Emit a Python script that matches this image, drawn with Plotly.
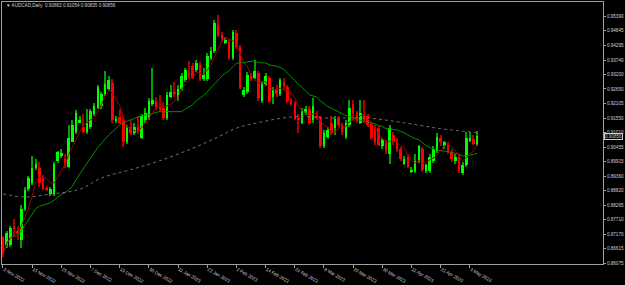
import pandas as pd
import plotly.graph_objects as go

# ---------------- data ----------------
title_text = "\u25bc AUDCAD,Daily  0.90863 0.91054 0.90835 0.90856"

open_ = [0.8702,0.8676,0.8676,0.8741,0.8730,0.8694,0.8813,0.8886,0.8911,0.8965,
 0.8965,0.8929,0.8889,0.8868,0.8868,0.8994,0.9012,0.9001,0.8972,0.9066,
 0.9102,0.9138,0.9120,0.9102,0.9120,0.9171,0.9193,0.9200,0.9247,0.9265,
 0.9286,0.9146,0.9160,0.9146,0.9066,0.9120,0.9099,0.9120,0.9081,0.9146,
 0.9156,0.9207,0.9221,0.9200,0.9193,0.9156,0.9236,0.9254,0.9229,0.9265,
 0.9297,0.9326,0.9351,0.9337,0.9355,0.9301,0.9301,0.9380,0.9409,0.9507,
 0.9470,0.9442,0.9442,0.9380,0.9478,0.9424,0.9243,0.9254,0.9315,0.9308,
 0.9326,0.9218,0.9283,0.9308,0.9236,0.9265,0.9247,0.9286,0.9272,0.9218,
 0.9211,0.9156,0.9138,0.9174,0.9189,0.9146,0.9164,0.9156,0.9048,0.9084,
 0.9138,0.9117,0.9153,0.9128,0.9084,0.9128,0.9207,0.9174,0.9138,0.9171,
 0.9164,0.9135,0.9120,0.9117,0.9048,0.9066,0.9019,0.9091,0.9073,0.9037,
 0.8983,0.9008,0.8954,0.8954,0.8994,0.9037,0.8954,0.8954,0.8994,0.9030,
 0.9081,0.9048,0.9055,0.9026,0.8994,0.9008,0.8947,0.8976,0.9070,0.9077,
 0.9052]

high = [0.8709,0.8730,0.8748,0.8774,0.8748,0.8828,0.8893,0.8936,0.9012,0.9001,
 0.8990,0.8940,0.8900,0.8893,0.8990,0.9030,0.9037,0.9019,0.9128,0.9146,
 0.9185,0.9164,0.9171,0.9189,0.9189,0.9211,0.9279,0.9254,0.9333,0.9315,
 0.9301,0.9164,0.9189,0.9164,0.9128,0.9146,0.9135,0.9164,0.9171,0.9193,
 0.9229,0.9344,0.9236,0.9243,0.9214,0.9254,0.9279,0.9290,0.9279,0.9326,
 0.9344,0.9369,0.9362,0.9373,0.9366,0.9344,0.9402,0.9424,0.9525,0.9543,
 0.9481,0.9460,0.9452,0.9489,0.9489,0.9431,0.9272,0.9330,0.9326,0.9373,
 0.9333,0.9290,0.9326,0.9315,0.9272,0.9279,0.9308,0.9308,0.9279,0.9229,
 0.9218,0.9171,0.9193,0.9200,0.9200,0.9229,0.9182,0.9164,0.9110,0.9120,
 0.9164,0.9164,0.9164,0.9135,0.9146,0.9225,0.9225,0.9182,0.9225,0.9225,
 0.9171,0.9142,0.9128,0.9124,0.9081,0.9073,0.9128,0.9102,0.9081,0.9045,
 0.9012,0.9019,0.8969,0.9019,0.9055,0.9045,0.8983,0.9019,0.9048,0.9099,
 0.9091,0.9070,0.9066,0.9037,0.9019,0.9019,0.8990,0.9102,0.9102,0.9091,
 0.91054]

low = [0.8629,0.8665,0.8669,0.8705,0.8694,0.8665,0.8806,0.8878,0.8904,0.8958,
 0.8893,0.8882,0.8878,0.8860,0.8860,0.8987,0.9005,0.8965,0.8965,0.9063,
 0.9095,0.9135,0.9099,0.9095,0.9113,0.9164,0.9189,0.9189,0.9239,0.9258,
 0.9138,0.9138,0.9131,0.9045,0.9059,0.9091,0.9091,0.9095,0.9077,0.9138,
 0.9149,0.9200,0.9185,0.9178,0.9149,0.9149,0.9229,0.9236,0.9221,0.9258,
 0.9290,0.9301,0.9301,0.9330,0.9294,0.9294,0.9294,0.9373,0.9402,0.9460,
 0.9442,0.9434,0.9373,0.9373,0.9416,0.9265,0.9236,0.9247,0.9294,0.9301,
 0.9221,0.9211,0.9276,0.9211,0.9207,0.9236,0.9239,0.9265,0.9211,0.9200,
 0.9146,0.9099,0.9131,0.9167,0.9131,0.9138,0.9146,0.9041,0.9041,0.9077,
 0.9091,0.9091,0.9120,0.9091,0.9077,0.9120,0.9146,0.9138,0.9131,0.9135,
 0.9120,0.9073,0.9055,0.9048,0.9037,0.9019,0.8983,0.9055,0.9026,0.8994,
 0.8976,0.8965,0.8947,0.8947,0.8987,0.8951,0.8947,0.8947,0.8987,0.9023,
 0.9048,0.9037,0.9019,0.8990,0.8983,0.8947,0.8940,0.8969,0.9063,0.9052,
 0.9048]

close = [0.8640,0.8723,0.8741,0.8738,0.8716,0.8813,0.8882,0.8929,0.8965,0.8983,
 0.8911,0.8886,0.8886,0.8886,0.8983,0.9026,0.9023,0.8976,0.9081,0.9128,
 0.9174,0.9149,0.9102,0.9138,0.9182,0.9200,0.9272,0.9247,0.9283,0.9297,
 0.9146,0.9153,0.9138,0.9066,0.9117,0.9099,0.9120,0.9102,0.9164,0.9174,
 0.9218,0.9225,0.9193,0.9189,0.9156,0.9243,0.9254,0.9247,0.9265,0.9315,
 0.9337,0.9319,0.9308,0.9362,0.9301,0.9319,0.9391,0.9409,0.9514,0.9470,
 0.9452,0.9449,0.9380,0.9481,0.9424,0.9272,0.9261,0.9319,0.9301,0.9333,
 0.9229,0.9283,0.9315,0.9218,0.9261,0.9247,0.9297,0.9279,0.9218,0.9211,
 0.9153,0.9146,0.9182,0.9189,0.9138,0.9200,0.9156,0.9048,0.9099,0.9110,
 0.9099,0.9153,0.9128,0.9102,0.9135,0.9193,0.9174,0.9146,0.9174,0.9146,
 0.9128,0.9081,0.9063,0.9055,0.9073,0.9030,0.9117,0.9063,0.9037,0.9001,
 0.9001,0.8972,0.8958,0.8994,0.9048,0.8958,0.8976,0.9008,0.9037,0.9084,
 0.9063,0.9063,0.9030,0.9001,0.9008,0.8954,0.8976,0.9081,0.9081,0.9059,
 0.90856]

# long moving average (grey dotted), read at a few bars
long_ma_idx = [0, 6, 13, 21, 27, 35, 43, 52, 59, 64, 70, 80, 90, 100, 110, 120, 130]
long_ma_val = [0.8869, 0.8857, 0.8868, 0.8886, 0.8929, 0.8960, 0.8994, 0.9041, 0.9084,
               0.9117, 0.9138, 0.9160, 0.9155, 0.9155, 0.9137, 0.9115, 0.9100]

x_tick_labels = ["3 Nov 2022", "15 Nov 2022", "25 Nov 2022", "7 Dec 2022", "19 Dec 2022",
                 "30 Dec 2022", "11 Jan 2023", "23 Jan 2023", "2 Feb 2023", "14 Feb 2023",
                 "24 Feb 2023", "8 Mar 2023", "20 Mar 2023", "30 Mar 2023", "11 Apr 2023",
                 "21 Apr 2023", "3 May 2023"]

y_tick_vals = [0.95390, 0.94845, 0.94295, 0.93740, 0.93200, 0.92650, 0.92105, 0.91550,
               0.91010, 0.90455, 0.89915, 0.89360, 0.88820, 0.88265, 0.87710, 0.87170,
               0.86615, 0.86075]

# trading days (weekdays, 26 Dec 2022 missing)
dates = pd.bdate_range("2022-11-03", "2023-05-05")
dates = dates[dates != pd.Timestamp("2022-12-26")]
xcat = [d.strftime("%Y-%m-%d") for d in dates]
n = len(close)
xcat = xcat[:n]

df = pd.DataFrame({"o": open_, "h": high, "l": low, "c": close}, index=xcat)
sma5 = df["c"].rolling(5, min_periods=1).mean()
sma20 = df["c"].rolling(20, min_periods=1).mean()

up = df["c"] >= df["o"]
body_base = df[["o", "c"]].min(axis=1)
body_h = (df["c"] - df["o"]).abs().clip(lower=0.00008)

fig = go.Figure()
# wicks
fig.add_trace(go.Bar(
    x=xcat, y=(df["h"] - df["l"]).tolist(), base=df["l"].tolist(), width=0.3,
    marker=dict(color=["#00a000" if u else "#b00000" for u in up], line=dict(width=0)),
    hoverinfo="skip", showlegend=False))
# bodies
fig.add_trace(go.Bar(
    x=xcat, y=body_h.tolist(), base=body_base.tolist(), width=0.7,
    marker=dict(color=["#00ff00" if u else "#ff0000" for u in up], line=dict(width=0)),
    hoverinfo="skip", showlegend=False))
# moving averages
fig.add_trace(go.Scatter(x=xcat, y=sma20.tolist(), mode="lines",
                         line=dict(color="#009000", width=1), showlegend=False))
fig.add_trace(go.Scatter(x=xcat, y=sma5.tolist(), mode="lines",
                         line=dict(color="#a00000", width=1), showlegend=False))
fig.add_trace(go.Scatter(x=[xcat[i] for i in long_ma_idx], y=long_ma_val, mode="lines",
                         line=dict(color="#6e6e6e", width=1, dash="dot", shape="spline"),
                         showlegend=False))

font = dict(family="Liberation Sans, Arial, sans-serif", size=4.6, color="#d0d0d0")

fig.update_layout(
    width=625, height=285,
    margin=dict(l=1, r=21, t=1, b=10),
    paper_bgcolor="#000000", plot_bgcolor="#000000",
    barmode="overlay", bargap=0,
    showlegend=False,
    xaxis=dict(type="category", range=[-0.27, 164.5],
               tickvals=[xcat[i] for i in range(0, n, 8)], ticktext=x_tick_labels,
               ticks="outside", ticklen=3, tickcolor="#a0a0a0", tickwidth=1,
               ticklabelposition="outside right", tickfont=font,
               showgrid=False, zeroline=False, showline=True, mirror=True,
               linecolor="#a0a0a0", linewidth=1, fixedrange=True),
    yaxis=dict(side="right", range=[0.86041, 0.95932],
               tickvals=y_tick_vals, ticktext=[f"{v:.5f}" for v in y_tick_vals],
               ticks="outside", ticklen=2, tickcolor="#a0a0a0", tickwidth=1,
               tickfont=font, showgrid=False, zeroline=False, showline=True,
               mirror=True, linecolor="#a0a0a0", linewidth=1, fixedrange=True),
    annotations=[
        dict(text=title_text, xref="paper", yref="paper", x=0.004, y=0.985,
             xanchor="left", yanchor="middle", showarrow=False, font=font),
        dict(text=f"{close[-1]:.5f}", xref="paper", yref="y", x=1, y=close[-1],
             xanchor="left", yanchor="middle", showarrow=False, xshift=1,
             font=font, bgcolor="#000000", bordercolor="#d0d0d0", borderwidth=1,
             borderpad=0),
    ],
)

fig.write_html("out.html")
